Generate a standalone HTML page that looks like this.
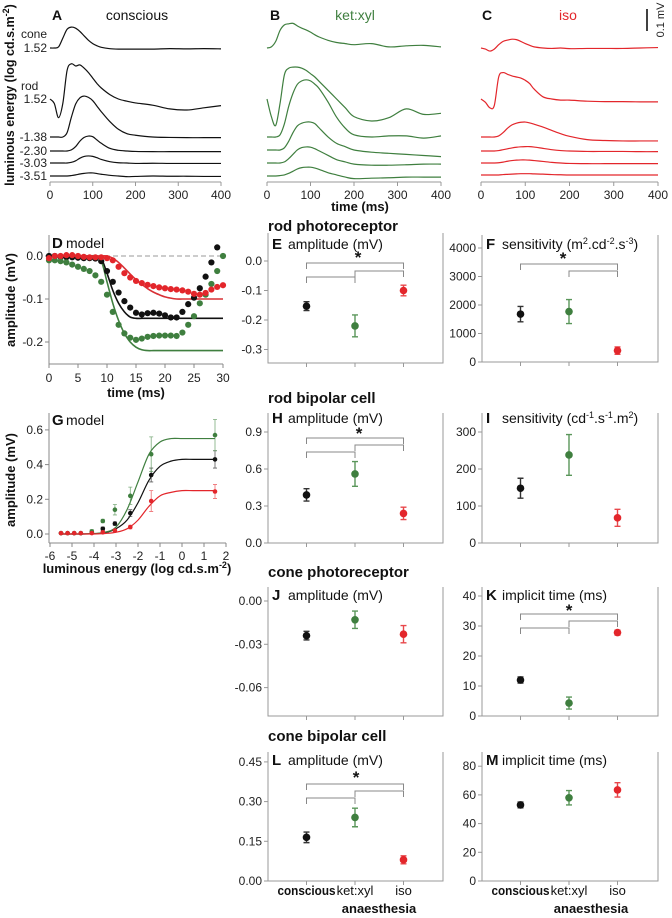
<!DOCTYPE html>
<html><head><meta charset="utf-8">
<style>
html,body{margin:0;padding:0;background:#fff;}
svg{display:block;font-family:"Liberation Sans",Arial,sans-serif;}
.tk{font-size:12px;fill:#222;}
.lbl{font-size:14px;fill:#111;}
.b{font-weight:bold;}
</style></head>
<body>
<svg id="fig" width="672" height="918" viewBox="0 0 672 918" xmlns="http://www.w3.org/2000/svg">
<g>
 <text x="52" y="20" class="lbl b" font-size="15">A</text>
 <text x="137" y="20" class="lbl" text-anchor="middle">conscious</text>
 <text x="270" y="20" class="lbl b" font-size="15">B</text>
 <text x="355" y="20" class="lbl" style="fill:#3f7f3f" text-anchor="middle">ket:xyl</text>
 <text x="482" y="20" class="lbl b" font-size="15">C</text>
 <text x="568" y="20" class="lbl" style="fill:#e3262b" text-anchor="middle">iso</text>
 <line x1="647" y1="9" x2="647" y2="31" stroke="#111" stroke-width="1.6"/>
 <text transform="translate(664,20) rotate(-90)" text-anchor="middle" font-size="11" fill="#222">0.1 mV</text>
 <text transform="translate(14,95) rotate(-90)" text-anchor="middle" class="b" font-size="12.5" fill="#111">luminous energy (log cd.s.m<tspan font-size="9" dy="-5">-2</tspan><tspan dy="5">)</tspan></text>
 <text x="21" y="38" class="tk">cone</text>
 <text x="47" y="52" class="tk" text-anchor="end">1.52</text>
 <text x="21" y="90" class="tk">rod</text>
 <text x="47" y="103" class="tk" text-anchor="end">1.52</text>
 <text x="47" y="141" class="tk" text-anchor="end">-1.38</text>
 <text x="47" y="155" class="tk" text-anchor="end">-2.30</text>
 <text x="47" y="167" class="tk" text-anchor="end">-3.03</text>
 <text x="47" y="180" class="tk" text-anchor="end">-3.51</text>
 <text x="360" y="211" class="b" font-size="13" text-anchor="middle" fill="#111">time (ms)</text>
</g>
<g>
 <text x="268" y="231" class="b" font-size="15" fill="#111">rod photoreceptor</text>
 <text x="268" y="403" class="b" font-size="15" fill="#111">rod bipolar cell</text>
 <text x="268" y="577" class="b" font-size="15" fill="#111">cone photoreceptor</text>
 <text x="268" y="741" class="b" font-size="15" fill="#111">cone bipolar cell</text>
</g>
<g id="plots"></g>
</svg>
<script>
const traceT = [0,10,20,30,40,50,60,70,80,90,100,110,120,140,160,180,200,240,280,320,360,400];
const traceTicks = [0,100,200,300,400];
const aCone = [0,0,0.005,0.045,0.085,0.095,0.09,0.075,0.055,0.035,0.02,0.01,0.003,-0.003,-0.005,-0.005,-0.005,-0.005,-0.003,-0.004,-0.003,-0.004];
const aRod152 = [0,-0.02,-0.085,-0.02,0.13,0.16,0.15,0.155,0.14,0.12,0.095,0.07,0.05,0.02,0,-0.01,-0.018,-0.028,-0.045,-0.05,-0.04,-0.03];
const aRod138 = [0,0,0,0,0.02,0.09,0.15,0.178,0.186,0.18,0.165,0.14,0.115,0.07,0.035,0.015,0.008,0,-0.002,-0.003,-0.003,-0.003];
const aRod230 = [0,0,0,0,0,0.005,0.02,0.045,0.062,0.068,0.065,0.05,0.035,0.012,0.003,0,-0.002,-0.003,-0.003,-0.003,-0.003,-0.003];
const aRod303 = [0,0,0,0,0,0.003,0.01,0.022,0.03,0.032,0.03,0.024,0.016,0.006,0.001,0,-0.002,-0.001,-0.002,-0.002,-0.002,-0.002];
const aRod351 = [0,0,0,0,0,0.002,0.005,0.009,0.012,0.014,0.014,0.011,0.008,0.003,0,-0.003,-0.002,0,-0.001,-0.001,-0.002,-0.002];
const bCone = [0,0.005,0.03,0.08,0.105,0.11,0.112,0.1,0.09,0.082,0.072,0.06,0.05,0.035,0.025,0.02,0.015,0.02,0.005,0.01,0.012,0.005];
const bRod152 = [0,-0.08,-0.12,-0.02,0.11,0.14,0.145,0.145,0.14,0.13,0.115,0.1,0.08,0.04,0.0,-0.04,-0.08,-0.1,-0.085,-0.045,-0.07,-0.065];
const bRod138 = [0,0,0,0.01,0.06,0.14,0.2,0.24,0.255,0.26,0.255,0.24,0.22,0.16,0.09,0.04,0.01,0.0,0.005,0.005,-0.005,0.005];
const bRod230 = [0,0,0,0,0.01,0.04,0.08,0.11,0.122,0.127,0.127,0.12,0.1,0.06,0.03,0.015,0.0,-0.01,-0.015,-0.02,-0.025,-0.03];
const bRod303 = [0,0,0,0,0.005,0.02,0.04,0.06,0.07,0.073,0.072,0.065,0.055,0.035,0.015,0.005,-0.005,-0.01,-0.01,-0.008,-0.005,-0.005];
const bRod351 = [0,0,0,0.002,0.005,0.012,0.022,0.032,0.038,0.04,0.04,0.036,0.03,0.015,0.005,-0.005,-0.012,-0.01,-0.008,-0.005,-0.005,-0.005];
const cCone = [0,-0.005,-0.014,-0.005,0.015,0.03,0.036,0.04,0.038,0.03,0.02,0.012,0.005,0.0,-0.002,0,-0.003,-0.002,-0.002,-0.002,0,0.002];
const cRod152 = [0,-0.015,-0.04,-0.03,0.1,0.12,0.112,0.105,0.1,0.095,0.085,0.07,0.045,0.01,0.0,-0.005,-0.005,-0.01,-0.012,-0.012,-0.013,-0.013];
const cRod138 = [0,0,0,0,0.005,0.02,0.04,0.055,0.063,0.067,0.068,0.064,0.058,0.045,0.03,0.015,0.003,-0.012,-0.016,-0.018,-0.018,-0.018];
const cRod230 = [0,0,0,0,0.002,0.006,0.01,0.014,0.017,0.019,0.02,0.02,0.018,0.012,0.006,0.002,0,-0.002,-0.002,-0.002,-0.003,-0.003];
const cRod303 = [0,0,0,0,0.001,0.004,0.008,0.011,0.013,0.014,0.014,0.013,0.011,0.007,0.003,0,-0.002,-0.003,-0.003,-0.003,-0.003,-0.003];
const cRod351 = [0,0,0,0,0,0.002,0.003,0.004,0.005,0.006,0.006,0.006,0.005,0.004,0.002,0.001,0,0,0,0,0,0];

const dTime = [0,1,2,3,4,5,6,7,8,9,10,11,12,13,14,15,16,17,18,19,20,21,22,23,24,25,26,27,28,29,30];
const dTicks = [0,5,10,15,20,25,30];
const dYTicks = [0.0,-0.1,-0.2];
const dBlackDots = [0,0,-0.002,-0.003,-0.003,-0.004,-0.005,-0.005,-0.006,-0.012,-0.035,-0.06,-0.085,-0.105,-0.12,-0.132,-0.136,-0.133,-0.132,-0.134,-0.138,-0.143,-0.143,-0.13,-0.112,-0.097,-0.075,-0.048,-0.015,0.02,null];
const dGreenDots = [-0.01,-0.01,-0.012,-0.015,-0.02,-0.025,-0.03,-0.035,-0.045,-0.06,-0.09,-0.13,-0.16,-0.18,-0.19,-0.195,-0.192,-0.188,-0.186,-0.185,-0.185,-0.185,-0.186,-0.178,-0.16,-0.14,-0.11,-0.09,-0.065,-0.035,0.0];
const dRedDots = [-0.005,0,0,0.002,0.002,0,-0.002,-0.003,-0.003,-0.003,-0.005,-0.01,-0.025,-0.04,-0.05,-0.058,-0.063,-0.067,-0.07,-0.073,-0.075,-0.077,-0.078,-0.08,-0.083,-0.088,-0.09,-0.086,-0.078,-0.072,-0.068];
const dBlackModel = [0,0,0,0,0,0,0,0,0,-0.005,-0.04,-0.08,-0.11,-0.13,-0.142,-0.145,-0.145,-0.145,-0.145,-0.145,-0.145,-0.145,-0.145,-0.145,-0.145,-0.145,-0.145,-0.145,-0.145,-0.145,-0.145];
const dGreenModel = [0,0,0,0,0,0,0,0,0,-0.01,-0.06,-0.11,-0.15,-0.18,-0.2,-0.212,-0.218,-0.22,-0.22,-0.22,-0.22,-0.22,-0.22,-0.22,-0.22,-0.22,-0.22,-0.22,-0.22,-0.22,-0.22];
const dRedModel = [0,0,0,0,0,0,0,0,0,0,0,-0.005,-0.015,-0.028,-0.042,-0.055,-0.066,-0.076,-0.084,-0.09,-0.095,-0.098,-0.1,-0.1,-0.1,-0.1,-0.1,-0.1,-0.1,-0.1,-0.1];

const gX = [-5.5,-5.2,-4.9,-4.6,-4.1,-3.6,-3.05,-2.35,-1.4,1.5];
const gBlack = [0.005,0.005,0.005,0.005,0.01,0.03,0.06,0.12,0.34,0.43];
const gBlackErr = [0,0,0,0,0.005,0.01,0.01,0.02,0.04,0.05];
const gGreen = [0.005,0.005,0.005,0.005,0.015,0.075,0.14,0.22,0.46,0.57];
const gGreenErr = [0,0,0,0,0.01,0.01,0.03,0.05,0.1,0.09];
const gRed = [0.005,0.005,0.005,0.005,0.005,0.01,0.02,0.04,0.19,0.245];
const gRedErr = [0,0,0,0,0,0.005,0.005,0.01,0.06,0.04];
const gModelX = [-5.5,-5,-4.5,-4,-3.5,-3,-2.5,-2,-1.5,-1,-0.5,0,0.5,1,1.5];
const gGreenModel = [0,0,0,0.003,0.01,0.04,0.14,0.3,0.46,0.53,0.55,0.55,0.55,0.55,0.55];
const gBlackModel = [0,0,0,0.002,0.007,0.03,0.08,0.18,0.31,0.39,0.42,0.43,0.43,0.43,0.43];
const gRedModel = [0,0,0,0,0.003,0.01,0.03,0.08,0.16,0.22,0.24,0.25,0.25,0.25,0.25];
const gXTicks = [-6,-5,-4,-3,-2,-1,0,1,2];
const gYTicks = [0.0,0.2,0.4,0.6];

const groups = ['conscious','ket:xyl','iso'];
const eVals=[-0.153,-0.22,-0.1], eErr=[0.015,0.037,0.018], eTicks=[0.0,-0.1,-0.2,-0.3];
const fVals=[1680,1770,400], fErr=[270,420,130], fTicks=[0,1000,2000,3000,4000];
const hVals=[0.39,0.56,0.24], hErr=[0.05,0.1,0.05], hTicks=[0.0,0.3,0.6,0.9];
const iVals=[148,238,68], iErr=[27,55,23], iTicks=[0,100,200,300];
const jVals=[-0.024,-0.013,-0.023], jErr=[0.003,0.006,0.006], jTicks=[0.00,-0.03,-0.06];
const kVals=[12,4.3,27.8], kErr=[1,2,0.8], kTicks=[0,10,20,30,40];
const lVals=[0.165,0.24,0.08], lErr=[0.02,0.035,0.015], lTicks=[0.00,0.15,0.30,0.45];
const mVals=[53,58,63.5], mErr=[2,5,5], mTicks=[0,20,40,60,80];

const NS='http://www.w3.org/2000/svg';
const root=document.getElementById('plots');
const COL=['#111111','#3f7f3f','#e3262b'];
const ERRCOL=['#333','#5a965a','#e8474b'];
function mk(tag,attrs,parent){const e=document.createElementNS(NS,tag);for(const k in attrs)e.setAttribute(k,attrs[k]);(parent||root).appendChild(e);return e;}
function lin(d0,d1,r0,r1){return v=>r0+(v-d0)*(r1-r0)/(d1-d0);}
function smooth(p){let d=`M${p[0][0].toFixed(2)},${p[0][1].toFixed(2)}`;const n=p.length;
 for(let i=0;i<n-1;i++){const p0=p[Math.max(i-1,0)],p1=p[i],p2=p[i+1],p3=p[Math.min(i+2,n-1)];
  const c1=[p1[0]+(p2[0]-p0[0])/6,p1[1]+(p2[1]-p0[1])/6],c2=[p2[0]-(p3[0]-p1[0])/6,p2[1]-(p3[1]-p1[1])/6];
  d+=` C${c1[0].toFixed(2)},${c1[1].toFixed(2)} ${c2[0].toFixed(2)},${c2[1].toFixed(2)} ${p2[0].toFixed(2)},${p2[1].toFixed(2)}`;}
 return d;}
function txt(x,y,s,attrs,parent){const t=mk('text',Object.assign({x:x,y:y},attrs||{}),parent);t.textContent=s;return t;}
function fmt(v,dec){return v.toFixed(dec);}

const PX_PER_MV=220;
const traceSets=[
 {name:'a',left:50,right:221,col:COL[0],series:[aCone,aRod152,aRod138,aRod230,aRod303,aRod351],base:[48,99,137,151,163,176]},
 {name:'b',left:267,right:441,col:COL[1],series:[bCone,bRod152,bRod138,bRod230,bRod303,bRod351],base:[48,99,137,150,163,176]},
 {name:'c',left:481,right:658,col:COL[2],series:[cCone,cRod152,cRod138,cRod230,cRod303,cRod351],base:[48,99,137,151,163,175]}
];
const traceNames=['cone-152','rod-152','rod-m138','rod-m230','rod-m303','rod-m351'];
traceSets.forEach(ts=>{
 const g=mk('g',{});
 
 
 const x=lin(0,400,ts.left,ts.right);
 mk('line',{x1:ts.left,y1:182,x2:ts.right,y2:182,stroke:'#999','stroke-width':1},g);
 traceTicks.forEach(t=>{
  mk('line',{x1:x(t),y1:182,x2:x(t),y2:186,stroke:'#999'},g);
  const tl=txt(x(t),199,String(t),{'text-anchor':'middle','class':'tk'},g);
  
  
 });
 ts.series.forEach((s,k)=>{
  const pts=traceT.map((t,i)=>[x(t),ts.base[k]-s[i]*PX_PER_MV]);
  const p=mk('path',{d:smooth(pts),fill:'none',stroke:ts.col,'stroke-width':1.2},g);
  
  
 });
});

(function(){
 const g=mk('g',{});
 
 
 const L=49,R=223,T=235,B=364;
 const x=lin(0,30,L,R), y=lin(0,-0.1,256,299);
 mk('line',{x1:L,y1:T,x2:L,y2:B,stroke:'#888'},g);
 mk('line',{x1:L,y1:B,x2:R,y2:B,stroke:'#888'},g);
 mk('line',{x1:L,y1:y(0),x2:R,y2:y(0),stroke:'#999','stroke-dasharray':'5,3'},g);
 dYTicks.forEach(v=>{mk('line',{x1:L-4,y1:y(v),x2:L,y2:y(v),stroke:'#888'},g);
  const t=txt(L-6,y(v)+4,fmt(v,1),{'text-anchor':'end','class':'tk'},g);
  
  });
 dTicks.forEach(v=>{mk('line',{x1:x(v),y1:B,x2:x(v),y2:B+4,stroke:'#888'},g);
  const t=txt(x(v),382,String(v),{'text-anchor':'middle','class':'tk'},g);
  
  });
 txt(136,397,'time (ms)',{'text-anchor':'middle','class':'b','font-size':13,fill:'#111'},g);
 const yt=mk('text',{transform:'translate(15,300) rotate(-90)','text-anchor':'middle','class':'b','font-size':13,fill:'#111'},g);yt.textContent='amplitude (mV)';
 
 
 txt(52,248,'D',{'class':'b','font-size':15,fill:'#111'},g);
 txt(66,248,'model',{'font-size':14,fill:'#111'},g);
 const dots=[[dBlackDots,0],[dGreenDots,1],[dRedDots,2]];
 const models=[[dBlackModel,0],[dGreenModel,1],[dRedModel,2]];
 models.forEach(([arr,c])=>{
  const p=mk('path',{d:smooth(dTime.map((t,i)=>[x(t),y(arr[i])])),fill:'none',stroke:c==2?'#d83035':COL[c],'stroke-width':1.6},g);
  
  
 });
 dots.forEach(([arr,c])=>{
  arr.forEach((v,i)=>{ if(v===null) return;
   const d=mk('circle',{cx:x(dTime[i]),cy:y(v),r:3.1,fill:COL[c]},g);
   
   
  });
 });
})();

(function(){
 const g=mk('g',{});
 
 
 const L=49,R=226,T=413,B=543;
 const x=lin(-6,2,50,226), y=lin(0,0.2,534,499.3);
 mk('line',{x1:L,y1:T,x2:L,y2:B,stroke:'#888'},g);
 mk('line',{x1:L,y1:B,x2:R,y2:B,stroke:'#888'},g);
 gYTicks.forEach(v=>{mk('line',{x1:L-4,y1:y(v),x2:L,y2:y(v),stroke:'#888'},g);
  const t=txt(L-6,y(v)+4,fmt(v,1),{'text-anchor':'end','class':'tk'},g);
  
  });
 gXTicks.forEach(v=>{mk('line',{x1:x(v),y1:B,x2:x(v),y2:B+4,stroke:'#888'},g);
  const t=txt(x(v),560,String(v),{'text-anchor':'middle','class':'tk'},g);
  
  });
 const xt=mk('text',{x:137,y:573,'text-anchor':'middle','class':'b','font-size':13,fill:'#111'},g);
 xt.innerHTML='luminous energy (log cd.s.m<tspan font-size="9" dy="-5">-2</tspan><tspan dy="5">)</tspan>';
 
 
 const yt=mk('text',{transform:'translate(15,480) rotate(-90)','text-anchor':'middle','class':'b','font-size':13,fill:'#111'},g);yt.textContent='amplitude (mV)';
 
 
 txt(52,425,'G',{'class':'b','font-size':15,fill:'#111'},g);
 txt(66,425,'model',{'font-size':14,fill:'#111'},g);
 [[gBlackModel,0],[gGreenModel,1],[gRedModel,2]].forEach(([arr,c])=>{
  const p=mk('path',{d:smooth(gModelX.map((v,i)=>[x(v),y(arr[i])])),fill:'none',stroke:COL[c],'stroke-width':1.2},g);
  
  
 });
 [[gBlack,gBlackErr,0],[gGreen,gGreenErr,1],[gRed,gRedErr,2]].forEach(([arr,err,c])=>{
  arr.forEach((v,i)=>{
   if(err[i]>0){const cx=x(gX[i]);
    mk('path',{d:`M${cx-2},${y(v+err[i])}H${cx+2}M${cx},${y(v+err[i])}V${y(v-err[i])}M${cx-2},${y(v-err[i])}H${cx+2}`,stroke:ERRCOL[c],'stroke-width':0.8,fill:'none',opacity:0.8},g);}
   const d=mk('circle',{cx:x(gX[i]),cy:y(v),r:2.3,fill:COL[c]},g);
   
   
  });
 });
})();

function groupPanel(cfg){
 const g=mk('g',{});
 
 
 const {L,R,T,B}=cfg;
 const y=lin(cfg.t0,cfg.t1,cfg.p0,cfg.p1);
 const xi=i=>L+38.5+i*48.5;
 mk('path',{d:`M${L},${T}V${B}H${R}V${T}`,fill:'none',stroke:'#999','stroke-width':1},g);
 cfg.ticks.forEach(v=>{mk('line',{x1:L-4,y1:y(v),x2:L,y2:y(v),stroke:'#999'},g);
  const t=txt(L-6,y(v)+4,fmt(v,cfg.dec),{'text-anchor':'end','class':'tk'},g);
  
  });
 [0,1,2].forEach(i=>mk('line',{x1:xi(i),y1:B,x2:xi(i),y2:B+4,stroke:'#999'},g));
 const lt=txt(L+4,cfg.labY,cfg.letter,{'class':'b','font-size':15,fill:'#111'},g);
 
 
 const tt=mk('text',{x:L+20,y:cfg.labY,'font-size':14,fill:'#111'},g);tt.innerHTML=cfg.title;
 
 
 (cfg.brackets||[]).forEach(([a,b,yy])=>{
  mk('path',{d:`M${xi(a)},${yy+6}V${yy}H${xi(b)}V${yy+6}`,fill:'none',stroke:'#888','stroke-width':1},g);
 });
 if(cfg.star){const s=txt(cfg.star[0],cfg.star[1]+8,'*',{'text-anchor':'middle','class':'b','font-size':17,fill:'#111'},g);
  
  }
 cfg.vals.forEach((v,i)=>{
  const cx=xi(i),e=cfg.err[i];
  const eb=mk('path',{d:`M${cx-3},${y(v+e)}H${cx+3}M${cx},${y(v+e)}V${y(v-e)}M${cx-3},${y(v-e)}H${cx+3}`,stroke:ERRCOL[i],'stroke-width':1.4,fill:'none'},g);
  
  
  const d=mk('circle',{cx:cx,cy:y(v),r:3.8,fill:COL[i]},g);
  
  
 });
 if(cfg.cats){
  groups.forEach((n,i)=>{
   const at={'text-anchor':'middle','font-size':13,fill:'#111','font-weight':i==0?'bold':'normal'};
   if(i==0){at.textLength=58;at.lengthAdjust='spacingAndGlyphs';}
   const t=txt(xi(i),895,n,at,g);
   
   });
  const a=txt(cfg.cats,913,'anaesthesia',{'text-anchor':'middle','class':'b','font-size':13,fill:'#111'},g);
  
  
 }
}
const LL=268,LR=443,RL=482,RR=658;
groupPanel({id:'e',letter:'E',title:'amplitude (mV)',L:LL,R:LR,T:233,B:363,t0:0,t1:-0.1,p0:261,p1:290.5,ticks:eTicks,dec:1,vals:eVals,err:eErr,labY:249,brackets:[[0,2,263],[1,2,271],[0,1,277]],star:[358,255]});
groupPanel({id:'f',letter:'F',title:'sensitivity (m<tspan font-size="9" dy="-5">2</tspan><tspan dy="5">.cd</tspan><tspan font-size="9" dy="-5">-2</tspan><tspan dy="5">.s</tspan><tspan font-size="9" dy="-5">-3</tspan><tspan dy="5">)</tspan>',L:RL,R:RR,T:235,B:362,t0:0,t1:1000,p0:362,p1:333.5,ticks:fTicks,dec:0,vals:fVals,err:fErr,labY:249,brackets:[[0,2,264],[1,2,271]],star:[563,256]});
groupPanel({id:'h',letter:'H',title:'amplitude (mV)',L:LL,R:LR,T:413,B:543,t0:0,t1:0.3,p0:543,p1:506,ticks:hTicks,dec:1,vals:hVals,err:hErr,labY:423,brackets:[[0,2,438],[1,2,445],[0,1,452]],star:[359,431]});
groupPanel({id:'i',letter:'I',title:'sensitivity (cd<tspan font-size="9" dy="-5">-1</tspan><tspan dy="5">.s</tspan><tspan font-size="9" dy="-5">-1</tspan><tspan dy="5">.m</tspan><tspan font-size="9" dy="-5">2</tspan><tspan dy="5">)</tspan>',L:RL,R:RR,T:413,B:543,t0:0,t1:100,p0:543,p1:506,ticks:iTicks,dec:0,vals:iVals,err:iErr,labY:423});
groupPanel({id:'j',letter:'J',title:'amplitude (mV)',L:LL,R:LR,T:587,B:716,t0:0,t1:-0.03,p0:601,p1:644.3,ticks:jTicks,dec:2,vals:jVals,err:jErr,labY:600});
groupPanel({id:'k',letter:'K',title:'implicit time (ms)',L:RL,R:RR,T:587,B:716,t0:0,t1:10,p0:716,p1:686,ticks:kTicks,dec:0,vals:kVals,err:kErr,labY:600,brackets:[[0,2,614],[1,2,621],[0,1,628]],star:[569,608]});
groupPanel({id:'l',letter:'L',title:'amplitude (mV)',L:LL,R:LR,T:752,B:881,t0:0,t1:0.15,p0:881,p1:841.3,ticks:lTicks,dec:2,vals:lVals,err:lErr,labY:765,brackets:[[0,2,784],[1,2,791],[0,1,798]],star:[356,775],cats:379});
groupPanel({id:'m',letter:'M',title:'implicit time (ms)',L:RL,R:RR,T:752,B:881,t0:0,t1:20,p0:881,p1:852.3,ticks:mTicks,dec:0,vals:mVals,err:mErr,labY:765,cats:591});
</script>
</body></html>
